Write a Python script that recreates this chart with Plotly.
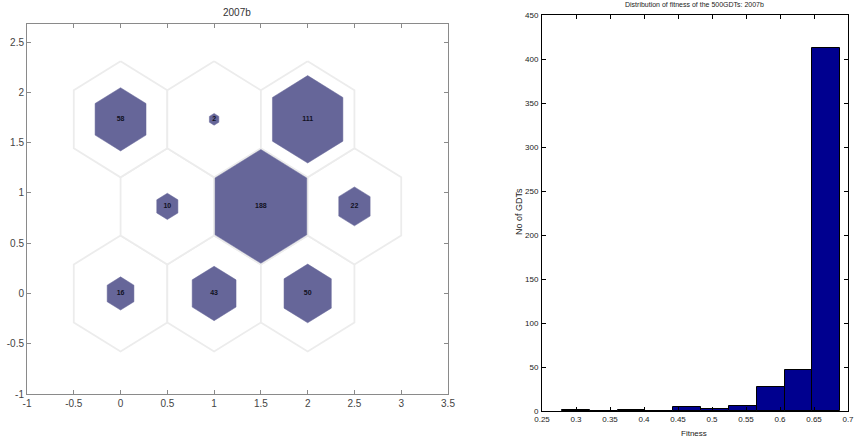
import math
import plotly.graph_objects as go

# ---------------- data ----------------
# SOM hits (3x3 hexagonal grid), listed row by row from bottom to top
som_rows = 3
som_cols = 3
som_hits = [16, 43, 50,
            10, 188, 22,
            58, 2, 111]
som_title = "2007b"

# histogram of fitness
hist_centers = [0.2997, 0.3406, 0.3816, 0.4225, 0.4635, 0.5044, 0.5453, 0.5863, 0.6272, 0.6682]
hist_counts = [1, 0, 1, 0, 4, 2, 6, 27, 47, 412]
hist_title = "Distribution of fitness of the 500GDTs: 2007b"
hist_xlabel = "Fitness"
hist_ylabel = "No of GDTs"

som_xticks = [-1, -0.5, 0, 0.5, 1, 1.5, 2, 2.5, 3, 3.5]
som_xticklabels = ["-1", "-0.5", "0", "0.5", "1", "1.5", "2", "2.5", "3", "3.5"]
som_yticks = [-1, -0.5, 0, 0.5, 1, 1.5, 2, 2.5]
som_yticklabels = ["-1", "-0.5", "0", "0.5", "1", "1.5", "2", "2.5"]
hist_xticks = [0.25, 0.3, 0.35, 0.4, 0.45, 0.5, 0.55, 0.6, 0.65, 0.7]
hist_xticklabels = ["0.25", "0.3", "0.35", "0.4", "0.45", "0.5", "0.55", "0.6", "0.65", "0.7"]
hist_yticks = [0, 50, 100, 150, 200, 250, 300, 350, 400, 450]

# ---------------- figure ----------------
W, H = 855, 441
fig = go.Figure()

R = 1 / math.sqrt(3)
max_hits = max(som_hits)


def hexagon(cx, cy, r):
    xs, ys = [], []
    for k in range(7):
        a = math.radians(90 + 60 * k)
        xs.append(cx + r * math.cos(a))
        ys.append(cy + r * math.sin(a))
    return xs, ys


centers = []
for i in range(som_rows):
    for j in range(som_cols):
        centers.append((j + 0.5 * (i % 2), i * math.sqrt(3) / 2))

# outer neuron hexagons
for (cx, cy) in centers:
    xs, ys = hexagon(cx, cy, R)
    fig.add_trace(go.Scatter(x=xs, y=ys, mode="lines", fill="toself",
                             fillcolor="white", line=dict(color="#ececec", width=1.8),
                             hoverinfo="skip", showlegend=False, xaxis="x", yaxis="y"))
# hit hexagons
for (cx, cy), n in zip(centers, som_hits):
    r = R * math.sqrt(n / max_hits) * 0.98
    xs, ys = hexagon(cx, cy, r)
    fig.add_trace(go.Scatter(x=xs, y=ys, mode="lines", fill="toself",
                             fillcolor="#666699", line=dict(color="#666699", width=0.5),
                             hoverinfo="skip", showlegend=False, xaxis="x", yaxis="y"))
# hit labels
fig.add_trace(go.Scatter(x=[c[0] for c in centers], y=[c[1] for c in centers],
                         mode="text", text=[str(n) for n in som_hits],
                         textfont=dict(family="Liberation Sans", size=7, color="#111122", weight="bold"),
                         hoverinfo="skip", showlegend=False, xaxis="x", yaxis="y"))

# histogram bars
bin_w = hist_centers[1] - hist_centers[0]
fig.add_trace(go.Bar(x=hist_centers, y=hist_counts, width=bin_w,
                     marker=dict(color="#00008f", line=dict(color="black", width=1)),
                     showlegend=False, xaxis="x2", yaxis="y2"))

# domains from pixel boxes
def dx(a, b):
    return [a / W, b / W]


def dy(top, bottom):
    return [1 - bottom / H, 1 - top / H]


gray = "#8a8a8a"
narrow = "Liberation Sans Narrow, Arial Narrow, Liberation Sans"

fig.update_layout(
    width=W, height=H,
    margin=dict(l=0, r=0, t=0, b=0, autoexpand=False),
    paper_bgcolor="white", plot_bgcolor="white",
    bargap=0,
    xaxis=dict(domain=dx(27, 448), range=[-1, 3.5], tickvals=som_xticks, ticktext=som_xticklabels,
               automargin=False,
               showgrid=False, zeroline=False, showline=True, linecolor=gray, linewidth=1,
               mirror="ticks", ticks="inside", ticklen=4, tickcolor=gray,
               tickfont=dict(family="Liberation Sans", size=10, color="#444444")),
    yaxis=dict(domain=dy(24, 394), range=[-1, 2.68], tickvals=som_yticks, ticktext=som_yticklabels,
               automargin=False,
               showgrid=False, zeroline=False, showline=True, linecolor=gray, linewidth=1,
               mirror="ticks", ticks="inside", ticklen=4, tickcolor=gray,
               tickfont=dict(family="Liberation Sans", size=10, color="#444444")),
    xaxis2=dict(domain=dx(542, 848), range=[0.25, 0.7], tickvals=hist_xticks, ticktext=hist_xticklabels,
                automargin=False,
                anchor="y2", showgrid=False, zeroline=False, showline=True, linecolor="black",
                linewidth=1, mirror="ticks", ticks="inside", ticklen=4, tickcolor="black",
                tickfont=dict(family=narrow, size=8, color="#222222")),
    yaxis2=dict(domain=dy(15, 411), range=[0, 450], tickvals=hist_yticks,
                automargin=False, ticklabelstandoff=1,
                anchor="x2", showgrid=False, zeroline=False, showline=True, linecolor="black",
                linewidth=1, mirror="ticks", ticks="inside", ticklen=4, tickcolor="black",
                tickfont=dict(family=narrow, size=8, color="#222222")),
    annotations=[
        dict(text=som_title, x=237 / W, y=1 - 12 / H, xref="paper", yref="paper",
             showarrow=False, font=dict(family="Liberation Sans", size=10, color="#333333"),
             xanchor="center", yanchor="middle"),
        dict(text=hist_title, x=694 / W, y=1 - 5 / H, xref="paper", yref="paper",
             showarrow=False, font=dict(family=narrow, size=7, color="#222222"),
             xanchor="center", yanchor="middle"),
        dict(text=hist_xlabel, x=694 / W, y=1 - 433 / H, xref="paper", yref="paper",
             showarrow=False, font=dict(family=narrow, size=8, color="#222222"),
             xanchor="center", yanchor="middle"),
        dict(text=hist_ylabel, x=519 / W, y=1 - 212 / H, xref="paper", yref="paper",
             showarrow=False, textangle=-90, font=dict(family="Liberation Sans", size=9, color="#222222"),
             xanchor="center", yanchor="middle"),
    ],
)

fig.write_html("out.html", config={"displayModeBar": False},
               post_script="document.body.style.margin='0px';document.body.style.overflow='hidden';")
